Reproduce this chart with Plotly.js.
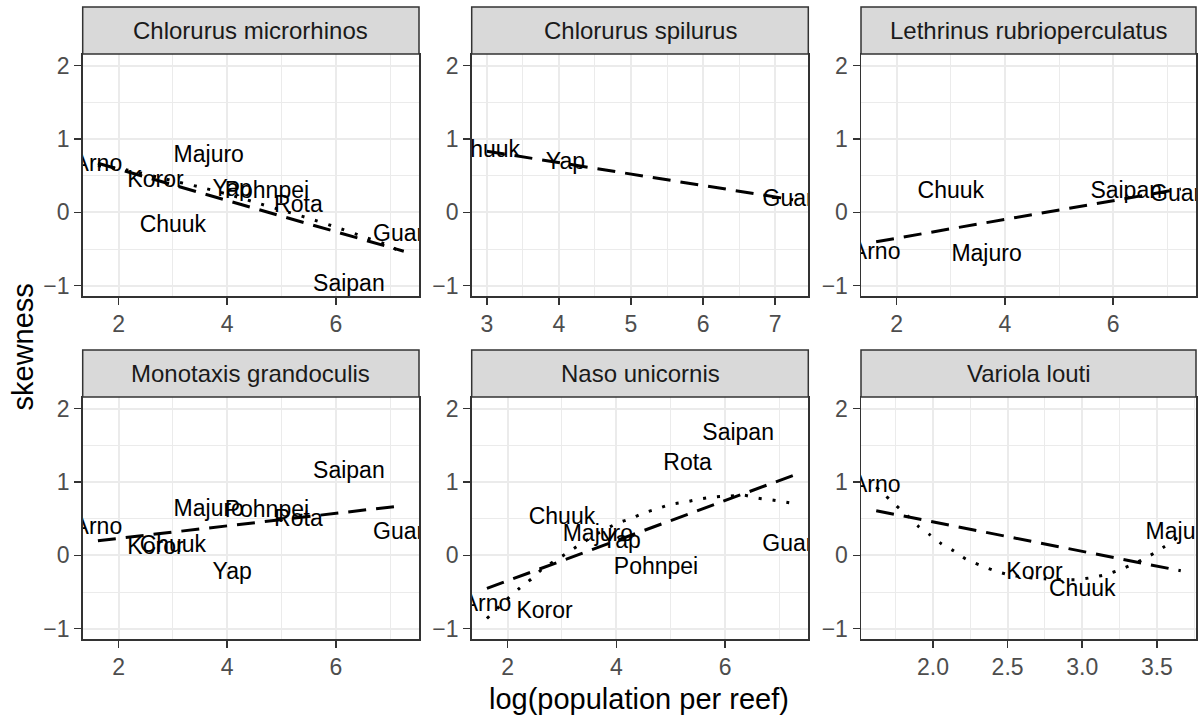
<!DOCTYPE html>
<html><head><meta charset="utf-8">
<script src="https://cdn.plot.ly/plotly-3.0.1.min.js"></script>
<style>html,body{margin:0;padding:0;background:#fff}</style>
</head><body><div id="chart" style="width:1201px;height:717px"></div>
<script>
// ---- data ----
const species = ["Chlorurus microrhinos","Chlorurus spilurus","Lethrinus rubrioperculatus",
                 "Monotaxis grandoculis","Naso unicornis","Variola louti"];
const islands = ["Arno","Koror","Chuuk","Majuro","Yap","Pohnpei","Rota","Saipan","Guam"];
const logPop  = [1.62, 2.68, 3.0, 3.66, 4.09, 4.73, 5.31, 6.24, 7.26];

const p1Islands = ["Arno","Koror","Chuuk","Majuro","Yap","Pohnpei","Rota","Saipan","Guam"];
const p1Skew    = [0.645, 0.43, -0.19, 0.77, 0.30, 0.28, 0.09, -1.0, -0.31];
const p2Islands = ["Chuuk","Yap","Guam"];
const p2Skew    = [0.83, 0.67, 0.17];
const p3Islands = ["Arno","Chuuk","Majuro","Saipan","Guam"];
const p3Skew    = [-0.56, 0.27, -0.58, 0.27, 0.24];
const p4Islands = ["Arno","Koror","Chuuk","Majuro","Yap","Pohnpei","Rota","Saipan","Guam"];
const p4Skew    = [0.37, 0.095, 0.12, 0.62, -0.25, 0.60, 0.48, 1.14, 0.30];
const p5Islands = ["Arno","Koror","Chuuk","Majuro","Yap","Pohnpei","Rota","Saipan","Guam"];
const p5Skew    = [-0.68, -0.77, 0.505, 0.28, 0.18, -0.17, 1.24, 1.65, 0.14];
const p6Islands = ["Arno","Koror","Chuuk","Majuro"];
const p6Skew    = [0.94, -0.24, -0.48, 0.30];

// linear fits (dashed)
const lm1X = [1.62, 7.25], lm1Y = [0.67, -0.53];
const lm2X = [3.0, 7.25],  lm2Y = [0.835, 0.172];
const lm3X = [1.62, 7.25], lm3Y = [-0.40, 0.32];
const lm4X = [1.62, 7.25], lm4Y = [0.20, 0.68];
const lm5X = [1.62, 7.25], lm5Y = [-0.45, 1.09];
const lm6X = [1.62, 3.66], lm6Y = [0.61, -0.21];

// smooth curves (dotted)
const lo1X = [1.62,2.15,2.95,3.47,4.0,4.5,5.0,5.5,6.0,6.5,7.0,7.25];
const lo1Y = [0.64,0.58,0.44,0.35,0.25,0.14,0.03,-0.08,-0.20,-0.33,-0.46,-0.58];
const lo5X = [1.62,1.9,2.23,2.44,2.63,3.09,3.31,3.66,4.02,4.26,4.51,4.77,5.02,5.28,5.55,5.83,6.07,6.35,6.61,6.87,7.25];
const lo5Y = [-0.86,-0.66,-0.44,-0.32,-0.19,0.03,0.14,0.30,0.44,0.50,0.58,0.64,0.70,0.73,0.77,0.80,0.81,0.82,0.78,0.755,0.71];
const lo6X = [1.62,1.685,1.756,1.83,1.90,1.98,2.056,2.14,2.22,2.31,2.40,2.50,2.62,2.75,2.87,2.97,3.07,3.16,3.26,3.35,3.43,3.52,3.66];
const lo6Y = [0.93,0.81,0.673,0.54,0.40,0.28,0.16,0.06,-0.05,-0.13,-0.20,-0.26,-0.30,-0.32,-0.33,-0.33,-0.30,-0.26,-0.19,-0.11,-0.03,0.08,0.27];

const xTicks = {
  1:{range:[1.34,7.53],dtick:2,minor:1,fmt:''},
  2:{range:[2.79,7.46],dtick:1,minor:0.5,fmt:''},
  3:{range:[1.34,7.53],dtick:2,minor:1,fmt:''},
  4:{range:[1.34,7.53],dtick:2,minor:1,fmt:''},
  5:{range:[1.34,7.53],dtick:2,minor:1,fmt:''},
  6:{range:[1.518,3.762],dtick:0.5,minor:0.25,fmt:'.1f'}
};
const yRange = [-1.14, 2.16];

// ---- build ----
const panelLabels = [[p1Islands,p1Skew],[p2Islands,p2Skew],[p3Islands,p3Skew],[p4Islands,p4Skew],[p5Islands,p5Skew],[p6Islands,p6Skew]];
const panelLm = [[lm1X,lm1Y],[lm2X,lm2Y],[lm3X,lm3Y],[lm4X,lm4Y],[lm5X,lm5Y],[lm6X,lm6Y]];
const panelLo = {1:[lo1X,lo1Y],5:[lo5X,lo5Y],6:[lo6X,lo6Y]};

const W = 1201, H = 717;
const colPx = [[82.7,419],[471.7,808.3],[861,1196]];
const rowPx = [[54,296],[397,639]];
const stripPx = [[7,54],[350,397]];
const FONT = "Liberation Sans, Arial, Helvetica, sans-serif";

const traces = [];
const layout = {
  width: W, height: H, autosize: false,
  margin: {l:0, r:0, t:0, b:0, pad:0},
  paper_bgcolor: '#ffffff', plot_bgcolor: '#ffffff',
  showlegend: false,
  font: {family: FONT, color: '#4D4D4D', size: 23},
  shapes: [], annotations: []
};

for (let i = 1; i <= 6; i++) {
  const r = i <= 3 ? 0 : 1, c = (i - 1) % 3;
  const xa = 'x' + (i === 1 ? '' : i), ya = 'y' + (i === 1 ? '' : i);
  const xd = [colPx[c][0] / W, colPx[c][1] / W];
  const yd = [1 - rowPx[r][1] / H, 1 - rowPx[r][0] / H];
  const t = xTicks[i];
  const common = {
    showline: true, mirror: true, linecolor: '#333333', linewidth: 1.5,
    ticks: 'outside', ticklen: 7, tickwidth: 1.5, tickcolor: '#333333',
    showgrid: true, gridcolor: '#EBEBEB', gridwidth: 2, zeroline: false,
    tickfont: {family: FONT, size: 23, color: '#4D4D4D'},
    fixedrange: true
  };
  layout['xaxis' + (i === 1 ? '' : i)] = Object.assign({}, common, {
    domain: xd, anchor: ya, range: t.range, tick0: 0, dtick: t.dtick, tickformat: t.fmt,
    minor: {dtick: t.minor, tick0: 0, showgrid: true, gridcolor: '#EBEBEB', gridwidth: 1, ticks: ''}
  });
  layout['yaxis' + (i === 1 ? '' : i)] = Object.assign({}, common, {
    domain: yd, anchor: xa, range: yRange, tick0: 0, dtick: 1,
    minor: {dtick: 0.5, tick0: 0, showgrid: true, gridcolor: '#EBEBEB', gridwidth: 1, ticks: ''}
  });

  // labels
  const names = panelLabels[i - 1][0], sk = panelLabels[i - 1][1];
  traces.push({
    type: 'scatter', mode: 'text', xaxis: xa, yaxis: ya,
    x: names.map(n => logPop[islands.indexOf(n)]), y: sk, text: names,
    textposition: 'middle center', cliponaxis: true,
    textfont: {family: FONT, size: 23, color: '#000000'}, hoverinfo: 'none'
  });
  // lm dashed
  traces.push({
    type: 'scatter', mode: 'lines', xaxis: xa, yaxis: ya,
    x: panelLm[i - 1][0], y: panelLm[i - 1][1], cliponaxis: true,
    line: {color: '#000000', width: 3, dash: '18px,10px'}, hoverinfo: 'none'
  });
  if (panelLo[i]) {
    traces.push({
      type: 'scatter', mode: 'lines', xaxis: xa, yaxis: ya,
      x: panelLo[i][0], y: panelLo[i][1], cliponaxis: true,
      line: {color: '#000000', width: 3, dash: '3px,11px', shape: 'spline', smoothing: 0.6},
      hoverinfo: 'none'
    });
  }

  // strip
  layout.shapes.push({
    type: 'rect', xref: 'paper', yref: 'paper', layer: 'above',
    x0: xd[0], x1: xd[1], y0: 1 - stripPx[r][1] / H, y1: 1 - stripPx[r][0] / H,
    fillcolor: '#D9D9D9', line: {color: '#333333', width: 1.5}
  });
  layout.annotations.push({
    xref: 'paper', yref: 'paper', x: (xd[0] + xd[1]) / 2,
    y: 1 - (stripPx[r][0] + stripPx[r][1]) / 2 / H,
    xanchor: 'center', yanchor: 'middle', showarrow: false,
    text: species[i - 1], font: {family: FONT, size: 24, color: '#1A1A1A'}
  });
}

layout.annotations.push({
  xref: 'paper', yref: 'paper', x: 639 / W, y: 1 - 699 / H,
  xanchor: 'center', yanchor: 'middle', showarrow: false,
  text: 'log(population per reef)', font: {family: FONT, size: 29, color: '#000000'}
});
layout.annotations.push({
  xref: 'paper', yref: 'paper', x: 22.5 / W, y: 1 - 347 / H,
  xanchor: 'center', yanchor: 'middle', showarrow: false, textangle: -90,
  text: 'skewness', font: {family: FONT, size: 29, color: '#000000'}
});

Plotly.newPlot('chart', traces, layout, {displayModeBar: false, staticPlot: true});
</script></body></html>
